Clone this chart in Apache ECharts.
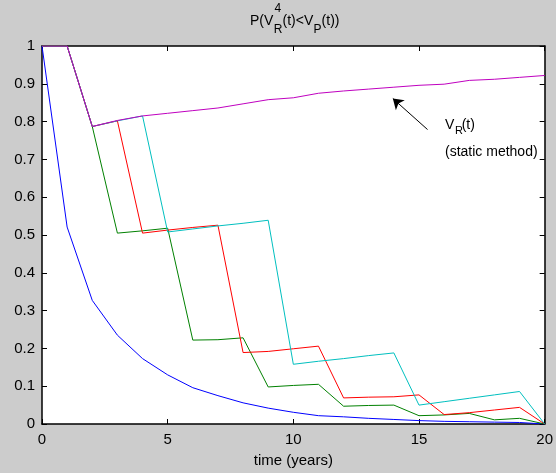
<!DOCTYPE html>
<html>
<head>
<meta charset="utf-8">
<script src="https://cdn.jsdelivr.net/npm/echarts@6/dist/echarts.min.js"></script>
<style>
html,body{margin:0;padding:0;background:#cccccc;}
#chart{width:556px;height:473px;}
</style>
</head>
<body>
<div id="chart"></div>
<script>
var years = [0,1,2,3,4,5,6,7,8,9,10,11,12,13,14,15,16,17,18,19,20];
var blueVals    = [1,0.521,0.327,0.235,0.173,0.130,0.096,0.075,0.056,0.042,0.031,0.022,0.019,0.015,0.012,0.009,0.007,0.006,0.005,0.004,0];
var greenVals   = [1,1,0.787,0.505,0.511,0.518,0.222,0.223,0.228,0.098,0.102,0.105,0.047,0.049,0.050,0.022,0.024,0.028,0.011,0.015,0];
var redVals     = [1,1,0.787,0.802,0.505,0.513,0.520,0.526,0.189,0.192,0.199,0.206,0.069,0.071,0.072,0.077,0.025,0.030,0.037,0.044,0];
var cyanVals    = [1,1,0.787,0.802,0.815,0.508,0.516,0.524,0.531,0.539,0.158,0.166,0.173,0.181,0.188,0.050,0.059,0.068,0.077,0.086,0];
var magentaVals = [1,1,0.787,0.803,0.815,0.822,0.829,0.836,0.847,0.858,0.863,0.875,0.881,0.886,0.891,0.896,0.899,0.909,0.912,0.917,0.922];
var xTicks = [0,5,10,15,20];
var yTicks = [0,0.1,0.2,0.3,0.4,0.5,0.6,0.7,0.8,0.9,1];
var arrowFrom = [15.34, 0.779];
var arrowTo = [13.96, 0.861];

function pairs(vals){ return years.map(function(t,i){ return [t, vals[i]]; }); }

var chart = echarts.init(document.getElementById('chart'), null, {renderer:'canvas'});
var FONT = '"Liberation Sans", Arial, Helvetica, sans-serif';
function mkLine(name, vals, color, extra){
  var s = {
    name: name, type:'line', data: pairs(vals), showSymbol:false, symbol:'none',
    lineStyle:{color:color, width:1}, itemStyle:{color:color}, silent:true, z: 2
  };
  if (extra) for (var k in extra) s[k] = extra[k];
  return s;
}
var AXW = 1.5;
function txt(x, y, s, size, z){
  return {type:'text', x:x, y:y, z:z||10, style:{text:s, font:size+'px '+FONT, fill:'#000', textAlign:'left', textVerticalAlign:'middle'}};
}
var option = {
  backgroundColor:'#cccccc',
  animation:false,
  textStyle:{fontFamily:FONT},
  grid:{left:42, right:7, top:46, bottom:48, show:true, backgroundColor:'#ffffff', borderWidth:0},
  xAxis:[{
    type:'value', min:0, max:20, interval:5, position:'bottom',
    axisLine:{show:true, onZero:false, lineStyle:{color:'#000', width:AXW}},
    axisTick:{show:true, inside:true, length:5, lineStyle:{color:'#000'}},
    axisLabel:{show:true, color:'#000', fontSize:15, margin:8, fontFamily:FONT,
      formatter:function(v){ return xTicks.indexOf(v)>=0 ? String(v) : ''; }},
    splitLine:{show:false},
    name:'time (years)', nameLocation:'middle', nameGap:29,
    nameTextStyle:{color:'#000', fontSize:15, fontFamily:FONT}
  },{
    type:'value', min:0, max:20, interval:5, position:'top',
    axisLine:{show:true, onZero:false, lineStyle:{color:'#000', width:AXW}},
    axisTick:{show:true, inside:true, length:5, lineStyle:{color:'#000'}},
    axisLabel:{show:false}, splitLine:{show:false}
  }],
  yAxis:[{
    type:'value', min:0, max:1, interval:0.1, position:'left',
    axisLine:{show:true, onZero:false, lineStyle:{color:'#000', width:AXW}},
    axisTick:{show:true, inside:true, length:5, lineStyle:{color:'#000'}},
    axisLabel:{show:true, color:'#000', fontSize:15, margin:7, fontFamily:FONT,
      formatter:function(v){ var r=Math.round(v*10)/10; return yTicks.indexOf(r)>=0 ? String(r) : ''; }},
    splitLine:{show:false}
  },{
    type:'value', min:0, max:1, interval:0.1, position:'right',
    axisLine:{show:true, onZero:false, lineStyle:{color:'#000', width:AXW}},
    axisTick:{show:true, inside:true, length:5, lineStyle:{color:'#000'}},
    axisLabel:{show:false}, splitLine:{show:false}
  }],
  series:[
    mkLine('blue', blueVals, '#0000ff', {
      markLine:{
        silent:true, symbol:['none','arrow'], symbolSize:10,
        label:{show:false},
        lineStyle:{color:'#000', width:1, type:'solid'},
        data:[[{coord:arrowFrom},{coord:arrowTo}]]
      }
    }),
    mkLine('green', greenVals, '#008000'),
    mkLine('red', redVals, '#ff0000'),
    mkLine('cyan', cyanVals, '#00bfbf'),
    mkLine('magenta', magentaVals, '#bf00bf')
  ],
  graphic:[
    txt(250, 20.8, 'P(V', 14),
    txt(274.5, 9, '4', 12),
    txt(273.8, 29.3, 'R', 12),
    txt(282.5, 20.8, '(t)<V', 14),
    txt(313.6, 29.3, 'P', 12),
    txt(321.6, 20.8, '(t))', 14),
    txt(445, 125.2, 'V', 14),
    txt(455, 131.2, 'R', 11),
    txt(461.7, 125.2, '(t)', 14),
    txt(445, 152.5, '(static method)', 14)
  ]
};
chart.setOption(option);
</script>
</body>
</html>
